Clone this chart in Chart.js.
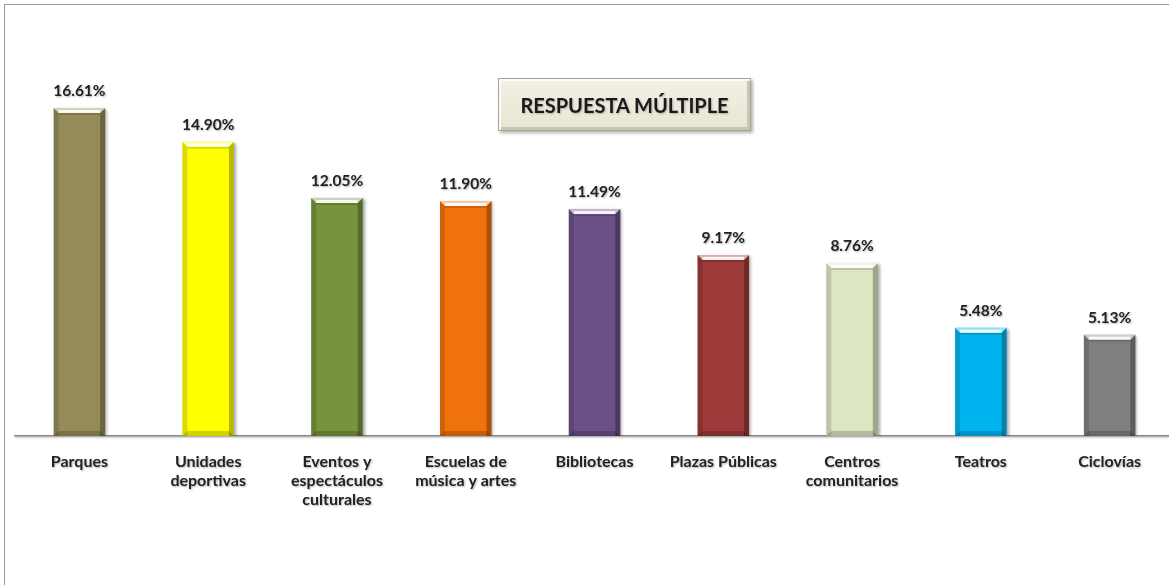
<!DOCTYPE html>
<html>
<head>
<meta charset="utf-8">
<script src="https://cdn.jsdelivr.net/npm/chart.js@4.4.1/dist/chart.umd.min.js"></script>
<style>
  html, body { margin: 0; padding: 0; background: #fff; overflow: hidden; }
  #wrap { position: relative; width: 1169px; height: 585px; overflow: hidden; }
  #frame { position: absolute; left: 4px; top: 4px; width: 1300px; height: 700px; border: 1px solid #9a9a9a; }
  #chart { position: absolute; left: 0; top: 0; }
  #note {
    position: absolute; left: 498px; top: 78px; width: 253px; height: 53px;
    box-sizing: border-box; border: 1px solid #a5a39a;
    background: linear-gradient(#f3f1e6, #e8e5d3);
    box-shadow: inset 2px 2px 0 #fbfaf3, inset -3px -3px 0 #c9c6b4, 2px 2px 3px rgba(0,0,0,0.3);
    font: bold 20px Lato, sans-serif; color: #1a1a1a;
    display: flex; align-items: center; justify-content: center;
    text-shadow: 1px 1px 2px rgba(0,0,0,0.25);
  }
</style>
</head>
<body>
<div id="wrap">
  <div id="frame"></div>
  <canvas id="chart" width="1174" height="585"></canvas>
  <div id="note">RESPUESTA MÚLTIPLE</div>
</div>
<script>
const categories = [
  ['Parques'],
  ['Unidades', 'deportivas'],
  ['Eventos y', 'espectáculos', 'culturales'],
  ['Escuelas de', 'música y artes'],
  ['Bibliotecas'],
  ['Plazas Públicas'],
  ['Centros', 'comunitarios'],
  ['Teatros'],
  ['Ciclovías']
];
const percentages = [16.61, 14.90, 12.05, 11.90, 11.49, 9.17, 8.76, 5.48, 5.13];
const barColors = ['#958b59', '#ffff00', '#77933c', '#ef720c', '#6a5087', '#9b3a38', '#dbe6c3', '#00b4f0', '#7f7f7f'];

// shadow on texts and the axis line
const textShadow = {
  id: 'textShadow',
  beforeDraw(chart) {
    const ctx = chart.ctx;
    ctx.save();
    ctx.shadowColor = 'rgba(0,0,0,0.3)';
    ctx.shadowOffsetX = 1;
    ctx.shadowOffsetY = 1;
    ctx.shadowBlur = 2;
  },
  beforeDatasetsDraw(chart) {
    chart.ctx.restore();
    const ctx = chart.ctx;
    ctx.save();
    ctx.shadowColor = 'rgba(0,0,0,0.35)';
    ctx.shadowOffsetX = 2;
    ctx.shadowOffsetY = 1;
    ctx.shadowBlur = 3;
  },
  afterDatasetsDraw(chart) {
    chart.ctx.restore();
  }
};

// bevel look on bars + value labels
const bevelAndLabels = {
  id: 'bevelAndLabels',
  afterDatasetsDraw(chart) {
    const ctx = chart.ctx;
    const meta = chart.getDatasetMeta(0);
    meta.data.forEach((bar, i) => {
      const l = bar.x - bar.width / 2, r = bar.x + bar.width / 2;
      const t = bar.y, b = bar.base, e = 5;
      ctx.save();
      // right side darker
      ctx.fillStyle = 'rgba(0,0,0,0.28)';
      ctx.beginPath();
      ctx.moveTo(r, t); ctx.lineTo(r - e, t + e); ctx.lineTo(r - e, b); ctx.lineTo(r, b);
      ctx.fill();
      // left side slightly darker
      ctx.fillStyle = 'rgba(0,0,0,0.14)';
      ctx.beginPath();
      ctx.moveTo(l, t); ctx.lineTo(l + e, t + e); ctx.lineTo(l + e, b); ctx.lineTo(l, b);
      ctx.fill();
      // top highlight
      ctx.fillStyle = 'rgba(255,255,255,0.6)';
      ctx.beginPath();
      ctx.moveTo(l, t); ctx.lineTo(r, t); ctx.lineTo(r - e, t + e); ctx.lineTo(l + e, t + e);
      ctx.fill();
      ctx.fillStyle = 'rgba(255,255,255,0.85)';
      ctx.fillRect(l + e, t + 2, r - l - 2 * e, 3);
      ctx.fillStyle = 'rgba(0,0,0,0.15)';
      ctx.fillRect(l + e, t + e, r - l - 2 * e, 2);
      // bottom darker
      ctx.fillStyle = 'rgba(0,0,0,0.18)';
      ctx.beginPath();
      ctx.moveTo(l, b); ctx.lineTo(r, b); ctx.lineTo(r - e, b - e); ctx.lineTo(l + e, b - e);
      ctx.fill();

      // value label
      ctx.shadowColor = 'rgba(0,0,0,0.3)';
      ctx.shadowOffsetX = 1;
      ctx.shadowOffsetY = 1;
      ctx.shadowBlur = 2;
      ctx.fillStyle = '#222';
      ctx.font = 'bold 15.5px Lato, sans-serif';
      ctx.textAlign = 'center';
      ctx.textBaseline = 'middle';
      ctx.fillText(percentages[i].toFixed(2) + '%', bar.x, t - 17);
      ctx.restore();
    });
  }
};

new Chart(document.getElementById('chart'), {
  type: 'bar',
  data: {
    labels: categories,
    datasets: [{
      data: percentages,
      backgroundColor: barColors,
      borderWidth: 0,
      barPercentage: 0.4,
      categoryPercentage: 1
    }]
  },
  options: {
    responsive: false,
    animation: false,
    layout: { padding: { left: 15, right: 0, top: 41, bottom: 0 } },
    plugins: {
      legend: { display: false },
      tooltip: { enabled: false },
      title: { display: false }
    },
    scales: {
      x: {
        grid: { display: false, drawTicks: false },
        border: { display: true, color: '#8a8a8a', width: 1.5 },
        ticks: {
          color: '#222',
          font: { family: 'Lato, sans-serif', size: 16, weight: 'bold', lineHeight: 1.19 },
          padding: 16,
          maxRotation: 0,
          autoSkip: false
        },
        afterFit(scale) { scale.height = 149; }
      },
      y: {
        display: false,
        min: 0,
        max: 20
      }
    }
  },
  plugins: [textShadow, bevelAndLabels]
});
</script>
</body>
</html>
